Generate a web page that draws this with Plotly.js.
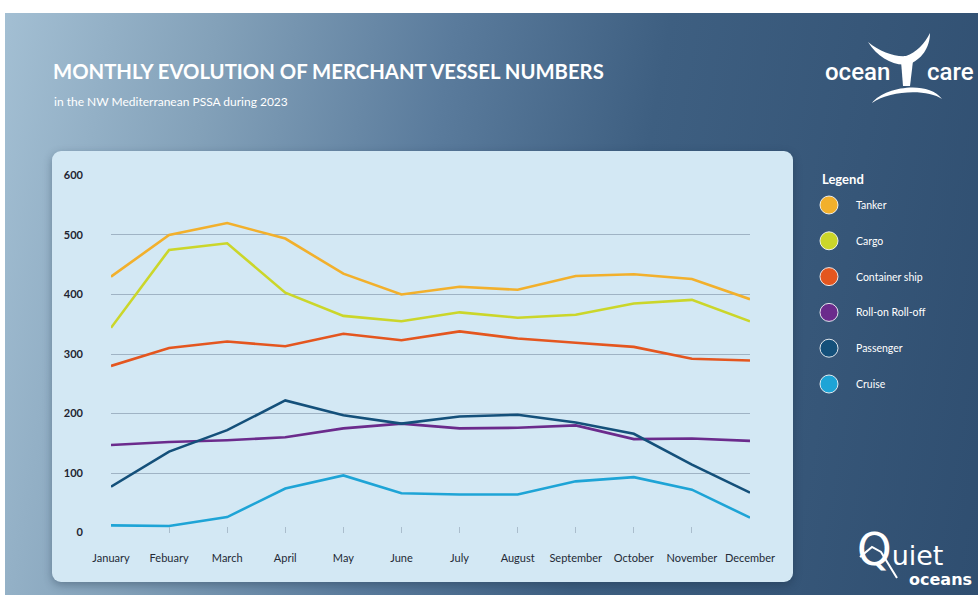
<!DOCTYPE html>
<html>
<head>
<meta charset="utf-8">
<script src="https://cdn.plot.ly/plotly-3.0.1.min.js"></script>
<style>
  html, body { margin: 0; padding: 0; background: #fff; }
  #frame {
    position: absolute; left: 5px; top: 13px; width: 973px; height: 582px;
    background: linear-gradient(100deg, #a3bfd3 0%, #83a1b9 20%, #5a7b9c 42%, #3e5f81 62%, #2f4e70 100%);
  }
  #card {
    position: absolute; left: 52px; top: 151px; width: 741px; height: 431px;
    background: #d3e8f4; border-radius: 9px;
    box-shadow: 0 3px 8px rgba(20, 40, 60, 0.35);
  }
  #chart { position: absolute; left: 0; top: 0; width: 978px; height: 595px; }
</style>
</head>
<body>
<div id="frame"></div>
<div id="card"></div>
<div id="chart"></div>
<script>
const months = ['January', 'Febuary', 'March', 'April', 'May', 'June', 'July', 'August', 'September', 'October', 'November', 'December'];

const tanker = [430, 500, 520, 494, 435, 400, 413, 408, 431, 434, 426, 392];
const cargo = [344, 475, 486, 403, 364, 355, 370, 361, 366, 385, 391, 355];
const containerShip = [280, 310, 321, 313, 334, 323, 338, 326, 319, 312, 292, 289];
const roro = [147, 152, 155, 160, 175, 183, 175, 176, 180, 157, 158, 154];
const passenger = [77, 136, 172, 222, 197, 183, 195, 198, 185, 166, 114, 67];
const cruise = [12, 11, 26, 74, 96, 66, 64, 64, 86, 93, 72, 25];

const seriesNames = ['Tanker', 'Cargo', 'Container ship', 'Roll-on Roll-off', 'Passenger', 'Cruise'];
const seriesValues = [tanker, cargo, containerShip, roro, passenger, cruise];
const seriesColors = ['#f2b02c', '#cbd62a', '#e4561f', '#6b2b8c', '#14507a', '#1ea4d6'];

// plot area in page pixels
const W = 978, H = 595;
const plotL = 111, plotR = 750, plotT = 175, plotB = 533;
const px = x => (x - plotL) / (plotR - plotL);
const py = y => (plotB - y) / (plotB - plotT);

const traces = seriesNames.map((name, i) => ({
  x: months,
  y: seriesValues[i],
  type: 'scatter',
  mode: 'lines',
  name: name,
  line: { color: seriesColors[i], width: 2.6 },
  showlegend: false
}));

const white = '#ffffff';
function note(text, x, y, xanchor, font, yanchor) {
  return { text: text, x: px(x), y: py(y), xref: 'paper', yref: 'paper',
    xanchor: xanchor, yanchor: yanchor || 'middle', showarrow: false, font: font };
}

const annotations = [
  note('MONTHLY EVOLUTION OF MERCHANT VESSEL NUMBERS', 51, 71, 'left',
    { family: 'Lato, sans-serif', size: 20.3, color: white, weight: 700 }),
  note('in the NW Mediterranean PSSA during 2023', 52, 102, 'left',
    { family: 'Lato, sans-serif', size: 12, color: white }),
  note('Legend', 820, 179, 'left', { family: 'Lato, sans-serif', size: 13, color: white, weight: 700 }),
  note('ocean', 823, 72, 'left', { family: 'Roboto, sans-serif', size: 24, color: white, weight: 500 }),
  note('care', 976, 72, 'right', { family: 'Roboto, sans-serif', size: 24, color: white, weight: 500 }),
  note('<span style="font-size:44px">Q</span>uiet', 855, 549, 'left',
    { family: 'DejaVu Sans, sans-serif', size: 27, color: white }),
  note('oceans', 974, 579, 'right', { family: 'DejaVu Sans, sans-serif', size: 16, color: white, weight: 700 })
];

const shapes = [];
const legendTop = 205, legendStep = 35.8;
seriesNames.forEach((name, i) => {
  const cy = legendTop + i * legendStep;
  shapes.push({
    type: 'circle', xref: 'paper', yref: 'paper',
    xsizemode: 'pixel', ysizemode: 'pixel',
    xanchor: px(829), yanchor: py(cy),
    x0: -9, x1: 9, y0: -9, y1: 9,
    fillcolor: seriesColors[i],
    line: { color: 'rgba(255,255,255,0.85)', width: 1 }
  });
  annotations.push(note(name, 854, cy, 'left', { family: 'Lato, sans-serif', size: 10.5, color: white }));
});

// ocean care tail mark
const path = pts => pts.map(p => (typeof p === 'string' ? p : px(p[0]) + ',' + py(p[1]))).join(' ');
shapes.push({
  type: 'path', xref: 'paper', yref: 'paper', fillcolor: white, line: { width: 0 },
  path: path(['M', [868, 42], 'C', [880, 52], [895, 57], [906, 56], 'C', [916, 53], [925, 43], [930, 33],
    'C', [930, 48], [921, 60], [909, 64], 'C', [895, 67], [878, 58], [868, 42], 'Z'])
});
shapes.push({
  type: 'path', xref: 'paper', yref: 'paper', fillcolor: white, line: { width: 0 },
  path: path(['M', [901, 61], 'L', [913, 61], 'L', [910, 86], 'L', [903, 86], 'Z'])
});
shapes.push({
  type: 'path', xref: 'paper', yref: 'paper', fillcolor: white, line: { width: 0 },
  path: path(['M', [872, 103], 'C', [884, 87], [928, 80], [942, 99], 'C', [928, 89], [890, 90], [872, 103], 'Z'])
});
// quiet oceans whale line
shapes.push({
  type: 'path', xref: 'paper', yref: 'paper', line: { color: white, width: 2 },
  path: path(['M', [860, 557], 'L', [872, 547], 'L', [881, 552], 'L', [897, 578]])
});

const layout = {
  width: W, height: H,
  margin: { l: plotL, r: W - plotR, t: plotT, b: H - plotB, pad: 0 },
  paper_bgcolor: 'rgba(0,0,0,0)',
  plot_bgcolor: 'rgba(0,0,0,0)',
  showlegend: false,
  xaxis: {
    type: 'category',
    range: [0, 11],
    showgrid: false,
    zeroline: false,
    showline: false,
    ticks: 'inside',
    ticklen: 6,
    tickcolor: '#aabdcc',
    ticklabelstandoff: 17,
    tickfont: { family: 'Lato, sans-serif', size: 11, color: '#232a36' }
  },
  yaxis: {
    range: [-0.8, 600.8],
    dtick: 100,
    showgrid: true,
    gridcolor: '#9fb3c4',
    gridwidth: 1,
    zeroline: false,
    showline: false,
    ticks: '',
    ticklabelstandoff: 27,
    tickfont: { family: 'Lato, sans-serif', size: 11, color: '#1e2430', weight: 700 }
  },
  annotations: annotations,
  shapes: shapes
};

Plotly.newPlot('chart', traces, layout, { displayModeBar: false, staticPlot: true });
</script>
</body>
</html>
